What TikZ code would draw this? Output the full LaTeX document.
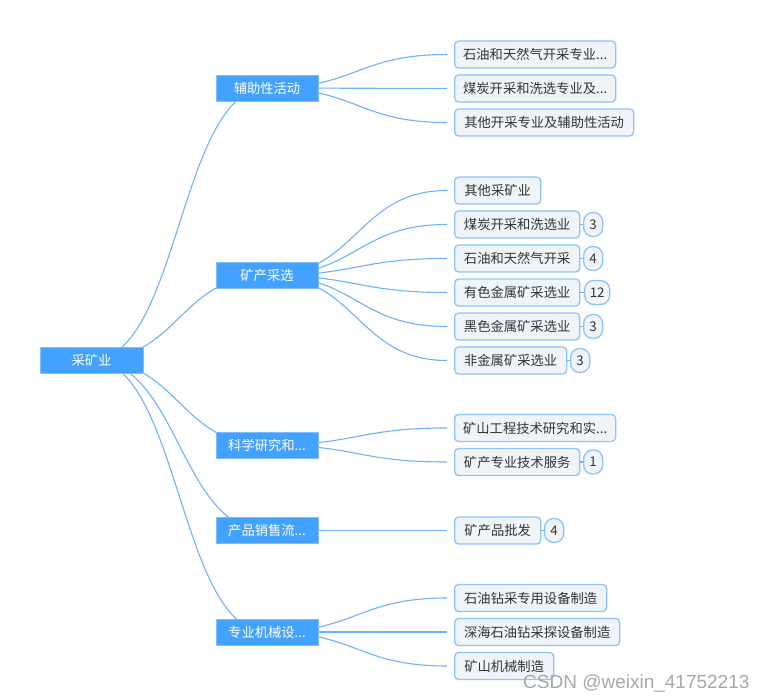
\documentclass[tikz,border=0pt]{standalone}
\usepackage{fontspec}
\setmainfont{Liberation Sans}
\newfontfamily\cjk{Noto Sans CJK SC}
\definecolor{mainblue}{HTML}{43A1FF}
\definecolor{edgeblue}{HTML}{80BDFA}
\definecolor{leaffill}{HTML}{F0F4F9}
\definecolor{leafborder}{HTML}{8CC3F8}
\definecolor{linkblue}{HTML}{6DB2FC}
\definecolor{txt}{HTML}{333333}
\definecolor{wmark}{HTML}{A8A8A8}
\pgfdeclarelayer{bg}
\pgfsetlayers{bg,main}
\tikzset{
  topbox/.style={fill=mainblue, draw=edgeblue, line width=0.8pt, text=white,
    font=\cjk\fontsize{13.3}{16}\selectfont, minimum height=26pt, minimum width=102pt, inner sep=0pt},
  leafbox/.style={fill=leaffill, draw=leafborder, line width=1.3pt, rounded corners=4pt, text=txt,
    font=\cjk\fontsize{13.3}{16}\selectfont, minimum height=27pt, inner sep=0pt, anchor=west},
  badge/.style={fill=leaffill, draw=leafborder, line width=1.3pt, rounded corners=9pt, text=txt,
    font=\cjk\fontsize{13.3}{16}\selectfont, minimum height=24pt, minimum width=19pt, inner sep=0pt, anchor=west},
  link/.style={draw=linkblue, line width=1.1pt},
}
\newcommand{\rootlink}[2]{\draw[link] (#1.center) .. controls ([xshift=88pt]#1.center) and ([xshift=-88pt]#2.center) .. (#2.center);}
\newcommand{\leaflink}[2]{\draw[link] (#1.center) .. controls ([xshift=90pt]#1.center) and ([xshift=-97pt]#2.west) .. ([xshift=-7pt]#2.west);}
\begin{document}
\begin{tikzpicture}[x=1pt,y=-1pt]
\useasboundingbox (0,0) rectangle (768,700);
% root and first level
\node[topbox, minimum width=103pt] (root) at (91.5,360) {采矿业};
\node[topbox] (a) at (267,88) {辅助性活动};
\node[topbox] (b) at (267,275.5) {矿产采选};
\node[topbox] (c) at (267,445) {科学研究和...};
\node[topbox] (d) at (267,530.5) {产品销售流...};
\node[topbox] (e) at (267,632) {专业机械设...};
% leaves group a
\node[leafbox, minimum width=161pt] (a1) at (454,54.5) {石油和天然气开采专业...};
\node[leafbox, minimum width=161pt] (a2) at (454,88.5) {煤炭开采和洗选专业及...};
\node[leafbox, minimum width=179pt] (a3) at (454,122.5) {其他开采专业及辅助性活动};
% leaves group b
\node[leafbox, minimum width=86pt] (b1) at (454,190.5) {其他采矿业};
\node[leafbox, minimum width=125pt] (b2) at (454,224.5) {煤炭开采和洗选业};
\node[leafbox, minimum width=125pt] (b3) at (454,258.5) {石油和天然气开采};
\node[leafbox, minimum width=125pt] (b4) at (454,292.5) {有色金属矿采选业};
\node[leafbox, minimum width=125pt] (b5) at (454,326.5) {黑色金属矿采选业};
\node[leafbox, minimum width=112pt] (b6) at (454,360.5) {非金属矿采选业};
\node[badge] (nb2) at (583,224.5) {3};
\node[badge] (nb3) at (583,258.5) {4};
\node[badge, minimum width=25pt] (nb4) at (584,292.5) {12};
\node[badge] (nb5) at (583,326.5) {3};
\node[badge] (nb6) at (570,360.5) {3};
% leaves group c
\node[leafbox, minimum width=161pt] (c1) at (454,428) {矿山工程技术研究和实...};
\node[leafbox, minimum width=125pt] (c2) at (454,462) {矿产专业技术服务};
\node[badge] (nc2) at (583,462) {1};
% leaves group d
\node[leafbox, minimum width=86pt] (d1) at (454,530.5) {矿产品批发};
\node[badge] (nd1) at (544,530.5) {4};
% leaves group e
\node[leafbox, minimum width=152pt] (e1) at (454,598) {石油钻采专用设备制造};
\node[leafbox, minimum width=165pt] (e2) at (454,632) {深海石油钻采探设备制造};
\node[leafbox, minimum width=99pt] (e3) at (454,666) {矿山机械制造};
% badge links
\draw[link] (b2.east) -- (nb2.west);
\draw[link] (b3.east) -- (nb3.west);
\draw[link] (b4.east) -- (nb4.west);
\draw[link] (b5.east) -- (nb5.west);
\draw[link] (b6.east) -- (nb6.west);
\draw[link] (c2.east) -- (nc2.west);
\draw[link] (d1.east) -- (nd1.west);
% watermark
\node[anchor=base west, inner sep=0pt, text=wmark, font=\fontsize{19}{22}\selectfont] (wm) at (523,688) {CSDN @weixin\_41752213};
\begin{pgfonlayer}{bg}
\fill[white] (0,0) rectangle (768,700);
\rootlink{root}{a}
\rootlink{root}{b}
\rootlink{root}{c}
\rootlink{root}{d}
\rootlink{root}{e}
\leaflink{a}{a1}
\leaflink{a}{a2}
\leaflink{a}{a3}
\leaflink{b}{b1}
\leaflink{b}{b2}
\leaflink{b}{b3}
\leaflink{b}{b4}
\leaflink{b}{b5}
\leaflink{b}{b6}
\leaflink{c}{c1}
\leaflink{c}{c2}
\leaflink{d}{d1}
\leaflink{e}{e1}
\leaflink{e}{e2}
\leaflink{e}{e3}
\end{pgfonlayer}
\end{tikzpicture}
\end{document}
